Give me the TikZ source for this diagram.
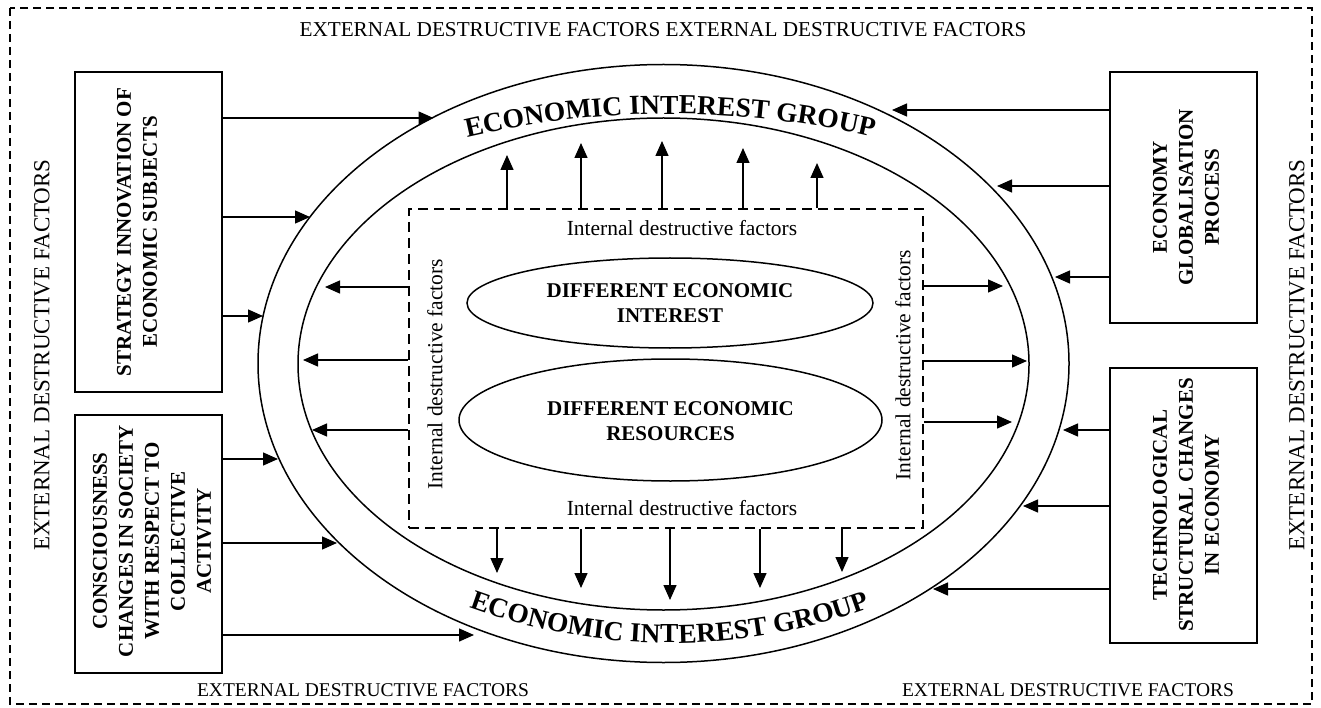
\documentclass[tikz,border=0pt]{standalone}
\usepackage{fontspec}
\setmainfont{Liberation Serif}
\usetikzlibrary{arrows.meta,decorations.text,shapes.geometric}
\newcommand\myarcfont{\fontsize{27.5}{30}\selectfont\bfseries}
\begin{document}
\begin{tikzpicture}[x=1pt,y=1pt,
  arr/.style={-{Triangle[length=15pt,width=13pt]}, line width=1.4pt},
  box/.style={draw, line width=1.6pt, rectangle, inner sep=0pt},
  boxtext/.style={font=\fontsize{21}{26}\selectfont\bfseries, align=center, rotate=90, inner sep=0pt},
  ell/.style={draw, ellipse, line width=1.5pt, inner sep=0pt},
  elltext/.style={font=\fontsize{21}{25}\selectfont\bfseries, align=center, inner sep=0pt},
  ext/.style={font=\fontsize{19.5}{23}\selectfont, inner sep=0pt},
  intl/.style={font=\fontsize{21.5}{24}\selectfont, inner sep=0pt},
  arctext/.style={decorate, decoration={text along path, text align=center, text={#1}}}
]
\useasboundingbox (0,0) rectangle (1321,-708);
% outer dashed frame
\draw[line width=1.2pt, dash pattern=on 8pt off 5pt] (10,-8) rectangle (1312,-704);

% external labels
\node[ext, font=\fontsize{21.2}{24}\selectfont] (etop) at (663,-30) {EXTERNAL DESTRUCTIVE FACTORS EXTERNAL DESTRUCTIVE FACTORS};
\node[ext, font=\fontsize{23}{26}\selectfont, rotate=90] (eleft) at (42,-355) {EXTERNAL DESTRUCTIVE FACTORS};
\node[ext, font=\fontsize{23}{26}\selectfont, rotate=90] (eright) at (1297,-355) {EXTERNAL DESTRUCTIVE FACTORS};
\node[ext] (ebl) at (363,-690) {EXTERNAL DESTRUCTIVE FACTORS};
\node[ext] (ebr) at (1068,-690) {EXTERNAL DESTRUCTIVE FACTORS};

% boxes
\node[box, minimum width=147pt, minimum height=320pt] (b1) at (148.5,-232) {};
\node[boxtext] (b1t) at (137,-232) {STRATEGY INNOVATION OF\\ECONOMIC SUBJECTS};
\node[box, minimum width=147pt, minimum height=258pt] (b2) at (148.5,-544) {};
\node[boxtext] (b2t) at (152,-541) {CONSCIOUSNESS\\CHANGES IN SOCIETY\\WITH RESPECT TO\\COLLECTIVE\\ACTIVITY};
\node[box, minimum width=147pt, minimum height=251pt] (b3) at (1183.5,-197.5) {};
\node[boxtext] (b3t) at (1186,-197.5) {ECONOMY\\GLOBALISATION\\PROCESS};
\node[box, minimum width=147pt, minimum height=275pt] (b4) at (1183.5,-505.5) {};
\node[boxtext] (b4t) at (1186,-505) {TECHNOLOGICAL\\STRUCTURAL CHANGES\\IN ECONOMY};

% ellipses
\node[ell, minimum width=811pt, minimum height=598pt] (outer) at (663.5,-363.5) {};
\node[ell, minimum width=731pt, minimum height=492pt] (inner) at (663.5,-364) {};
\node[ell, minimum width=406pt, minimum height=90pt] (e1) at (670,-303) {};
\node[elltext] (e1t) at (670,-303) {DIFFERENT ECONOMIC\\INTEREST};
\node[ell, minimum width=423pt, minimum height=122pt] (e2) at (670.5,-420) {};
\node[elltext] (e2t) at (670.5,-421) {DIFFERENT ECONOMIC\\RESOURCES};

% dashed inner frame
\node[draw, line width=1.6pt, dash pattern=on 10pt off 6pt, minimum width=514pt, minimum height=319pt, inner sep=0pt] (dr) at (666,-368.5) {};
\node[intl] (itop) at (682,-228) {Internal destructive factors};
\node[intl] (ibot) at (682,-508) {Internal destructive factors};
\node[intl, rotate=90] (ileft) at (435,-374) {Internal destructive factors};
\node[intl, rotate=90] (iright) at (903,-365) {Internal destructive factors};

% arc texts
\path[arctext={|\myarcfont|ECONOMIC INTEREST GROUP}] (670,-1009) ++(110:895) arc[start angle=110, end angle=70, radius=895];
\path[arctext={|\myarcfont|ECONOMIC INTEREST GROUP}] (670,-58) ++(245:585) arc[start angle=245, end angle=295, radius=585];

% arrow tips
\coordinate (l1) at (433.5,-118); \coordinate (l2) at (310,-217); \coordinate (l3) at (263,-316);
\coordinate (l4) at (278,-459); \coordinate (l5) at (337,-543); \coordinate (l6) at (474,-635);
\coordinate (r1) at (892,-110); \coordinate (r2) at (997,-186); \coordinate (r3) at (1055,-277);
\coordinate (r4) at (1063,-430); \coordinate (r5) at (1023,-506); \coordinate (r6) at (933,-589);
\coordinate (il1) at (325,-287); \coordinate (il2) at (303,-360); \coordinate (il3) at (312,-430);
\coordinate (ir1) at (1003,-286); \coordinate (ir2) at (1027,-361); \coordinate (ir3) at (1012,-422);
\coordinate (u1) at (507,-155); \coordinate (u2) at (581,-143); \coordinate (u3) at (662,-141); \coordinate (u4) at (743,-148); \coordinate (u5) at (817,-163);
\coordinate (d1) at (497,-573); \coordinate (d2) at (581,-588); \coordinate (d3) at (670,-600); \coordinate (d4) at (760,-588); \coordinate (d5) at (842,-572);

\foreach \t in {l1,l2,l3} \draw[arr] (b1.east |- \t) -- (\t);
\foreach \t in {l4,l5,l6} \draw[arr] (b2.east |- \t) -- (\t);
\foreach \t in {r1,r2,r3} \draw[arr] (b3.west |- \t) -- (\t);
\foreach \t in {r4,r5,r6} \draw[arr] (b4.west |- \t) -- (\t);
\foreach \t in {il1,il2,il3} \draw[arr] (dr.west |- \t) -- (\t);
\foreach \t in {ir1,ir2,ir3} \draw[arr] (dr.east |- \t) -- (\t);
\foreach \t in {u1,u2,u3,u4,u5} \draw[arr] (\t |- dr.north) -- (\t);
\foreach \t in {d1,d2,d3,d4,d5} \draw[arr] (\t |- dr.south) -- (\t);
\end{tikzpicture}
\end{document}
